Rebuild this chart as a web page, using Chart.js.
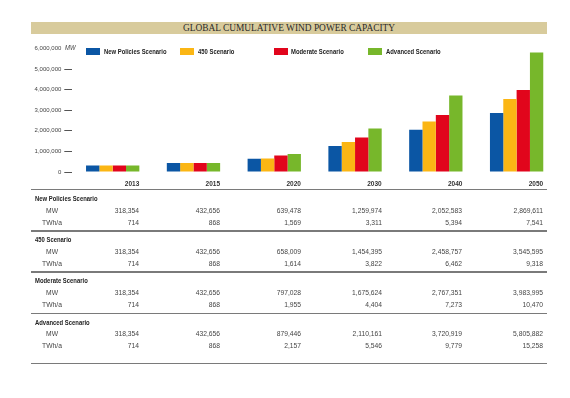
<!DOCTYPE html>
<html>
<head>
<meta charset="utf-8">
<script src="https://cdn.jsdelivr.net/npm/chart.js@4.4.0/dist/chart.umd.min.js"></script>
<style>
    body { margin: 0; background: #fff; }
    #page { position: relative; width: 570px; height: 398px; overflow: hidden; font-family: 'Liberation Sans', Arial, sans-serif; color: #444; }
    .abs { position: absolute; white-space: nowrap; line-height: 10px; }
    #titleBar { position: absolute; left: 31px; top: 22px; width: 516px; height: 12px; background: #d8cb9c; text-align: center; font-family: 'Liberation Serif', serif; font-size: 9.4px; line-height: 12px; color: #2a2a2a; }
    #chartBox { position: absolute; left: 0; top: 0; width: 570px; height: 192px; }
    .rule { position: absolute; left: 31px; width: 516px; height: 1.5px; background: #7a7a7a; }
    .legendBox { position: absolute; width: 14px; height: 7px; }
    .legendText, .head { font-weight: bold; font-size: 7.2px; color: #222; transform: scaleX(0.82); transform-origin: left center; }
    .head { left: 35px; }
    .unit { font-size: 8px; width: 30px; text-align: center; left: 37px; transform: scaleX(0.84); transform-origin: center center; }
    .num { font-size: 8px; text-align: right; width: 60px; transform: scaleX(0.84); transform-origin: right center; }
</style>
</head>
<body>
<div id="page">
    <div id="titleBar">GLOBAL CUMULATIVE WIND POWER CAPACITY</div>
    <div id="chartBox"><canvas id="windChart" width="570" height="192"></canvas></div>
    <div class="abs" style="left:65px; top:43px; font-size:7px; font-style:italic; transform:scaleX(0.85); transform-origin:left center;">MW</div>
    <div id="legend"></div>
    <div id="table"></div>
</div>
<script>
// Data
const years = ['2013', '2015', '2020', '2030', '2040', '2050'];
const scenarios = ['New Policies Scenario', '450 Scenario', 'Moderate Scenario', 'Advanced Scenario'];
const scenarioColors = ['#0b56a4', '#fbb614', '#e1051c', '#77b72b'];

const newPoliciesMW = [318354, 432656, 639478, 1259974, 2052583, 2869611];
const newPoliciesTWh = [714, 868, 1569, 3311, 5394, 7541];
const s450MW = [318354, 432656, 658009, 1454395, 2458757, 3545595];
const s450TWh = [714, 868, 1614, 3822, 6462, 9318];
const moderateMW = [318354, 432656, 797028, 1675624, 2767351, 3983995];
const moderateTWh = [714, 868, 1955, 4404, 7273, 10470];
const advancedMW = [318354, 432656, 879446, 2110161, 3720919, 5805882];
const advancedTWh = [714, 868, 2157, 5546, 9779, 15258];

const yMax = 6000000;
const yStep = 1000000;

const mwByScenario = [newPoliciesMW, s450MW, moderateMW, advancedMW];
const twhByScenario = [newPoliciesTWh, s450TWh, moderateTWh, advancedTWh];

const fmt = v => v.toLocaleString('en-US');
const sans = "'Liberation Sans', Arial, sans-serif";
const groupPct = 0.66;

// Legend
const legendLeft = [86, 180, 273.5, 368];
const legend = document.getElementById('legend');
scenarios.forEach((name, i) => {
    const box = document.createElement('div');
    box.className = 'legendBox';
    box.style.left = legendLeft[i] + 'px';
    box.style.top = '48px';
    box.style.background = scenarioColors[i];
    legend.appendChild(box);
    const txt = document.createElement('div');
    txt.className = 'abs legendText';
    txt.style.left = (legendLeft[i] + 17.5) + 'px';
    txt.style.top = '46.5px';
    txt.textContent = name;
    legend.appendChild(txt);
});

// Chart
const ctx = document.getElementById('windChart').getContext('2d');
const chart = new Chart(ctx, {
    type: 'bar',
    data: {
        labels: years,
        datasets: scenarios.map((name, i) => ({
            label: name,
            data: mwByScenario[i],
            backgroundColor: scenarioColors[i],
            borderWidth: 0,
            categoryPercentage: groupPct,
            barPercentage: 1.0
        }))
    },
    options: {
        responsive: false,
        animation: false,
        layout: { padding: { top: 48.5, right: 13, left: 0, bottom: 0 } },
        plugins: { legend: { display: false }, tooltip: { enabled: false } },
        scales: {
            x: {
                grid: { display: false, drawTicks: false },
                border: { display: false },
                ticks: {
                    color: '#333',
                    font: { family: sans, size: 6.5, weight: 'bold' },
                    align: 'end',
                    labelOffset: 26.6,
                    padding: 8,
                    maxRotation: 0
                },
                afterFit: s => { s.height = 20; s.paddingLeft = 0; s.paddingRight = 0; }
            },
            y: {
                min: 0,
                max: yMax,
                grid: {
                    drawOnChartArea: false,
                    drawTicks: true,
                    tickLength: 8,
                    lineWidth: 1,
                    color: c => (c.tick && c.tick.value === yMax) ? 'rgba(0,0,0,0)' : '#555'
                },
                border: { display: false },
                ticks: {
                    stepSize: yStep,
                    color: '#444',
                    padding: 3,
                    font: { family: sans, size: 6 },
                    callback: v => fmt(v)
                },
                afterFit: s => { s.width = 72.3; s.paddingTop = 0; s.paddingBottom = 0; }
            }
        }
    }
});

// Table below the chart
const table = document.getElementById('table');
const xScale = chart.scales.x;
const halfGroup = xScale.width / years.length * groupPct / 2;
const colRight = years.map((y, i) => xScale.getPixelForTick(i) + halfGroup);

function addText(cls, text, left, centerY) {
    const d = document.createElement('div');
    d.className = 'abs ' + cls;
    if (left !== null) d.style.left = left + 'px';
    d.style.top = (centerY - 5) + 'px';
    d.textContent = text;
    table.appendChild(d);
}
function addRule(y) {
    const r = document.createElement('div');
    r.className = 'rule';
    r.style.top = y + 'px';
    table.appendChild(r);
}

addRule(188.6);
const blockTop = [199, 240, 281, 322.5];
const ruleY = [230.4, 271.2, 312.6, 362.6];
scenarios.forEach((name, k) => {
    const y0 = blockTop[k];
    addText('head', name, null, y0);
    addText('unit', 'MW', null, y0 + 11.7);
    addText('unit', 'TWh/a', null, y0 + 23.5);
    years.forEach((yr, i) => {
        addText('num', fmt(mwByScenario[k][i]), colRight[i] - 60, y0 + 11.7);
        addText('num', fmt(twhByScenario[k][i]), colRight[i] - 60, y0 + 23.5);
    });
    addRule(ruleY[k]);
});
</script>
</body>
</html>
